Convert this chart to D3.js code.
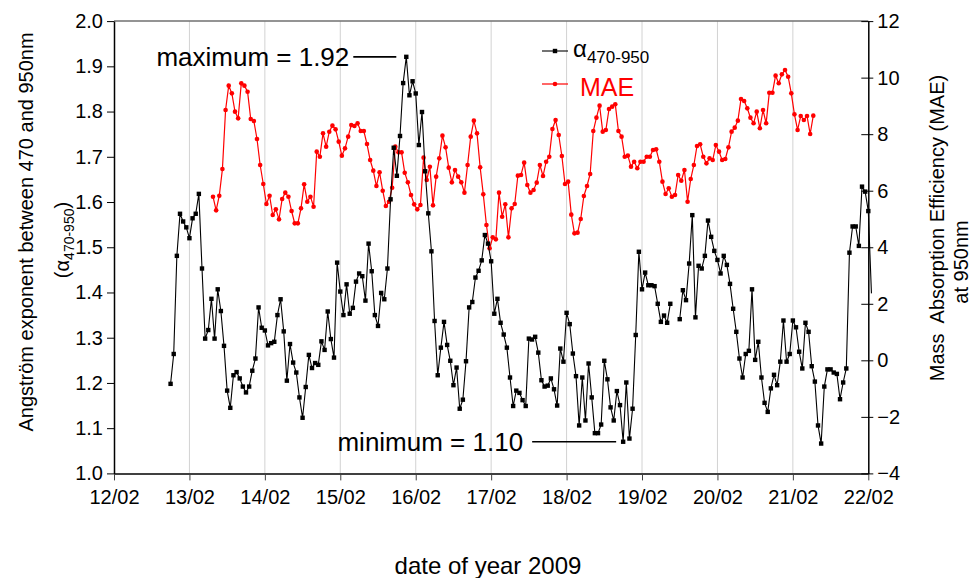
<!DOCTYPE html>
<html>
<head>
<meta charset="utf-8">
<script src="https://cdn.jsdelivr.net/npm/d3@7"></script>
<style>
  html, body { margin: 0; padding: 0; background: #fff; }
  svg { display: block; font-family: "Liberation Sans", Arial, sans-serif; }
</style>
</head>
<body>
<svg id="chart" width="975" height="578"></svg>
<script>
// ---------------- DATA ----------------
// hourly values of the Angstrom exponent, starting 12/02/2009 18:00
const alphaStart = "2009-02-12 18:00";
const alphaValues = [
  1.198,1.264,1.481,1.574,1.557,1.544,1.520,1.564,1.574,1.618,
  1.453,1.298,1.317,1.386,1.298,1.407,1.359,1.282,1.183,1.145,
  1.217,1.224,1.210,1.192,1.179,1.192,1.227,1.254,1.367,1.322,
  1.316,1.283,1.288,1.291,1.350,1.385,1.314,1.205,1.286,1.245,
  1.223,1.168,1.123,1.191,1.262,1.233,1.244,1.240,1.292,1.273,
  1.358,1.297,1.256,1.466,1.402,1.350,1.418,1.353,
  1.366,1.424,1.442,1.436,1.382,1.508,1.447,1.350,1.326,1.399,
  1.385,1.453,1.606,1.720,1.658,1.746,1.863,1.921,1.836,1.867,
  1.840,1.726,1.799,1.668,1.575,1.491,1.337,1.217,1.278,1.335,
  1.284,1.249,1.195,1.234,1.143,1.163,1.248,1.367,1.379,1.433,
  1.448,1.471,1.527,1.508,1.469,1.353,1.386,1.333,1.307,1.278,
  1.212,1.149,1.183,1.178,1.162,1.149,1.298,
  1.296,1.302,1.267,1.206,1.192,1.194,1.210,1.186,1.150,1.276,
  1.247,1.355,1.330,1.265,1.215,1.106,1.212,1.117,1.243,1.168,
  1.089,1.089,1.108,1.249,1.208,1.146,1.117,1.182,1.151,1.070,
  1.201,1.077,1.143,1.306,1.490,
  1.407,1.444,1.416,1.416,1.414,1.375,1.335,1.349,1.333,1.375,
  null,null,
  1.341,1.405,1.383,1.464,1.571,1.345,1.459,1.453,
  1.481,1.559,1.523,1.492,1.472,1.442,1.481,1.461,1.419,1.364,
  1.313,1.254,1.212,1.264,1.271,1.407,1.251,1.291,
  1.212,1.156,1.136,1.188,1.218,1.195,1.247,1.338,1.247,1.264,
  1.338,1.323,1.269,1.232,1.333,1.313,1.237,1.203,1.106,1.066,
  1.192,1.230,1.230,1.223,1.220,1.164,1.201,1.232,1.488,1.546,
  1.546,1.503,1.634,1.623,1.580,1.398
];

// hourly Mass Absorption Efficiency values, starting 13/02/2009 07:30
const maeStart = "2009-02-13 07:30";
const maeValues = [
  5.789,5.306,5.824,6.768,8.855,9.716,9.445,8.796,8.560,9.798,
  9.716,9.503,8.537,8.466,7.829,6.909,6.237,5.530,5.824,5.140,
  5.341,4.987,5.707,5.931,5.789,5.282,4.846,4.846,5.376,6.225,
  5.612,5.789,5.435,7.381,7.204,8.029,7.558,8.088,8.301,8.171,
  7.735,7.240,7.499,7.912,
  8.324,8.289,8.383,8.112,8.112,7.652,7.086,6.709,6.166,6.650,
  6.001,5.459,5.612,6.107,7.558,7.357,7.357,6.638,6.296,5.848,
  5.518,5.341,5.494,7.169,6.379,6.850,5.482,6.497,7.145,7.947,
  7.534,6.815,6.296,6.732,6.497,6.296,5.931,6.909,7.912,8.478,
  8.029,6.827,5.872,4.787,3.961,4.350,4.280,5.931,5.081,5.518,
  4.350,5.376,5.530,6.532,6.556,6.992,
  6.200,5.931,6.025,6.285,6.910,6.520,7.027,7.204,8.183,8.501,
  7.971,7.228,6.237,6.320,5.153,4.492,4.516,4.999,5.813,6.167,
  6.591,8.112,8.584,9.009,8.089,8.148,8.891,8.973,9.056,8.112,
  7.912,7.204,7.240,6.851,7.027,6.792,
  7.027,7.027,7.204,7.204,7.440,7.464,7.027,6.320,5.884,6.084,
  5.789,5.848,6.556,6.355,6.733,5.612,6.414,6.910,7.582,7.641,
  7.204,6.968,7.145,7.086,7.617,7.381,7.086,7.122,7.534,8.089,
  8.230,8.478,9.244,9.174,8.914,8.584,8.384,8.796,
  8.207,8.855,8.384,9.468,9.468,10.070,9.799,10.117,10.270,10.034,
  9.445,8.702,8.148,8.643,8.501,8.643,8.006,8.655
];

const xDomain = ["2009-02-12 00:00", "2009-02-22 00:00"];
const leftTicks = [1.0,1.1,1.2,1.3,1.4,1.5,1.6,1.7,1.8,1.9,2.0];
const rightTicks = [-4,-2,0,2,4,6,8,10,12];
const annotMax = "maximum = 1.92";
const annotMin = "minimum = 1.10";

// ---------------- CHART ----------------
const parse = d3.timeParse("%Y-%m-%d %H:%M");
const alphaData = alphaValues.map((v, i) => ({ t: d3.timeHour.offset(parse(alphaStart), i), v }));
const maeData = maeValues.map((v, i) => ({ t: d3.timeHour.offset(parse(maeStart), i), v }));

const L = 114, R = 868.3, T = 21.1, B = 473.4;
const FONT = 20;

const svg = d3.select("#chart");

const x = d3.scaleTime().domain(xDomain.map(parse)).range([L, R]);
const yL = d3.scaleLinear().domain([1, 2]).range([B, T]);
const yR = d3.scaleLinear().domain([-4, 12]).range([B, T]);

// vertical grid lines
const dayTicks = x.ticks(d3.timeDay.every(1));
svg.append("g")
  .selectAll("line")
  .data(dayTicks.slice(1, -1))
  .join("line")
  .attr("x1", d => x(d)).attr("x2", d => x(d))
  .attr("y1", T).attr("y2", B)
  .attr("stroke", "#d2d2d2").attr("stroke-width", 1);

// top border
svg.append("line")
  .attr("x1", L).attr("x2", R).attr("y1", T).attr("y2", T)
  .attr("stroke", "#707070").attr("stroke-width", 1.5);

// bottom axis
const gx = svg.append("g").attr("transform", `translate(0,${B})`)
  .call(d3.axisBottom(x).tickValues(dayTicks).tickFormat(d3.timeFormat("%d/%m"))
    .tickSizeInner(7).tickSizeOuter(0).tickPadding(9));
gx.select(".domain").attr("stroke", "#404040").attr("stroke-width", 2);
gx.selectAll(".tick line").attr("stroke", "#404040");
gx.selectAll("text").attr("font-size", FONT).attr("fill", "#000")
  .attr("font-family", "'Liberation Sans', Arial, sans-serif");

// left axis
const gl = svg.append("g").attr("transform", `translate(${L},0)`)
  .call(d3.axisLeft(yL).tickValues(leftTicks).tickFormat(d3.format(".1f"))
    .tickSizeInner(7).tickSizeOuter(0).tickPadding(4));
gl.select(".domain").attr("stroke", "#000").attr("stroke-width", 1.5);
gl.selectAll("text").attr("font-size", FONT).attr("fill", "#000")
  .attr("font-family", "'Liberation Sans', Arial, sans-serif");

// right axis (ticks cross the axis line)
const gr = svg.append("g").attr("transform", `translate(${R},0)`)
  .call(d3.axisRight(yR).tickValues(rightTicks).tickFormat(d3.format("d"))
    .tickSizeInner(5).tickSizeOuter(0).tickPadding(4));
gr.select(".domain").attr("stroke", "#000").attr("stroke-width", 1.5);
gr.selectAll(".tick line").attr("x1", -7);
gr.selectAll("text").attr("font-size", FONT).attr("fill", "#000")
  .attr("font-family", "'Liberation Sans', Arial, sans-serif");

// MAE series (red)
const lineMae = d3.line().defined(d => d.v != null).x(d => x(d.t)).y(d => yR(d.v));
svg.append("path").datum(maeData)
  .attr("d", lineMae).attr("fill", "none").attr("stroke", "#ff0000").attr("stroke-width", 1.2);
svg.append("g").selectAll("circle")
  .data(maeData.filter(d => d.v != null))
  .join("circle")
  .attr("cx", d => x(d.t)).attr("cy", d => yR(d.v)).attr("r", 2.3)
  .attr("fill", "#ff0000");

// alpha series (black)
const lineAlpha = d3.line().defined(d => d.v != null).x(d => x(d.t)).y(d => yL(d.v));
svg.append("path").datum(alphaData)
  .attr("d", lineAlpha).attr("fill", "none").attr("stroke", "#000").attr("stroke-width", 1.1);
const sq = 4.4;
svg.append("g").selectAll("rect")
  .data(alphaData.filter((d, i) => d.v != null && i < alphaData.length - 1))
  .join("rect")
  .attr("x", d => x(d.t) - sq / 2).attr("y", d => yL(d.v) - sq / 2)
  .attr("width", sq).attr("height", sq).attr("fill", "#000");

// annotations (maximum / minimum)
const valid = alphaData.filter(d => d.v != null);
const maxPt = valid.reduce((a, b) => (b.v > a.v ? b : a));
const minPt = alphaData.filter(d => d.v != null && d.t < parse("2009-02-19 00:00"))
  .reduce((a, b) => (b.v < a.v ? b : a));
svg.append("line")
  .attr("x1", x(maxPt.t) - 53).attr("x2", x(maxPt.t) - 10)
  .attr("y1", yL(maxPt.v)).attr("y2", yL(maxPt.v))
  .attr("stroke", "#000").attr("stroke-width", 1.6);
svg.append("text")
  .attr("x", x(maxPt.t) - 57).attr("y", yL(maxPt.v) + 9)
  .attr("text-anchor", "end").attr("font-size", 26).text(annotMax);
svg.append("line")
  .attr("x1", x(minPt.t) - 91).attr("x2", x(minPt.t) - 7)
  .attr("y1", yL(minPt.v)).attr("y2", yL(minPt.v))
  .attr("stroke", "#000").attr("stroke-width", 1.6);
svg.append("text")
  .attr("x", x(minPt.t) - 100).attr("y", yL(minPt.v) + 9)
  .attr("text-anchor", "end").attr("font-size", 26).text(annotMin);

// legend
const lg = svg.append("g");
lg.append("line").attr("x1", 542).attr("x2", 568).attr("y1", 51).attr("y2", 51)
  .attr("stroke", "#000").attr("stroke-width", 1.1);
lg.append("rect").attr("x", 555 - sq / 2).attr("y", 51 - sq / 2).attr("width", sq).attr("height", sq).attr("fill", "#000");
const lt = lg.append("text").attr("x", 573).attr("y", 57).attr("font-size", 24).attr("fill", "#000");
lt.append("tspan").text("α");
lt.append("tspan").attr("font-size", 17).attr("dy", 6).text("470-950");
lg.append("line").attr("x1", 542).attr("x2", 568).attr("y1", 84).attr("y2", 84)
  .attr("stroke", "#ff0000").attr("stroke-width", 1.2);
lg.append("circle").attr("cx", 555).attr("cy", 84).attr("r", 2.3).attr("fill", "#ff0000");
lg.append("text").attr("x", 580).attr("y", 96).attr("font-size", 25).attr("fill", "#ff0000").text("MAE");

// axis titles
svg.append("text")
  .attr("transform", "translate(26,232) rotate(-90)")
  .attr("text-anchor", "middle").attr("dy", "0.35em").attr("font-size", FONT)
  .text("Angström exponent between 470 and 950nm");
const l2 = svg.append("text")
  .attr("transform", "translate(62,240) rotate(-90)")
  .attr("text-anchor", "middle").attr("dy", "0.35em").attr("font-size", FONT);
l2.append("tspan").text("(α");
l2.append("tspan").attr("font-size", 14).attr("dy", 5).text("470-950");
l2.append("tspan").attr("dy", -5).text(")");

svg.append("text")
  .attr("transform", "translate(937,228) rotate(-90)")
  .attr("text-anchor", "middle").attr("dy", "0.35em").attr("font-size", FONT)
  .attr("xml:space", "preserve")
  .text("Mass  Absorption Efficiency (MAE)");
svg.append("text")
  .attr("transform", "translate(961,262) rotate(-90)")
  .attr("text-anchor", "middle").attr("dy", "0.35em").attr("font-size", FONT)
  .text("at 950nm");

svg.append("text")
  .attr("x", 488).attr("y", 574)
  .attr("text-anchor", "middle").attr("font-size", 24)
  .text("date of year 2009");
</script>
</body>
</html>
